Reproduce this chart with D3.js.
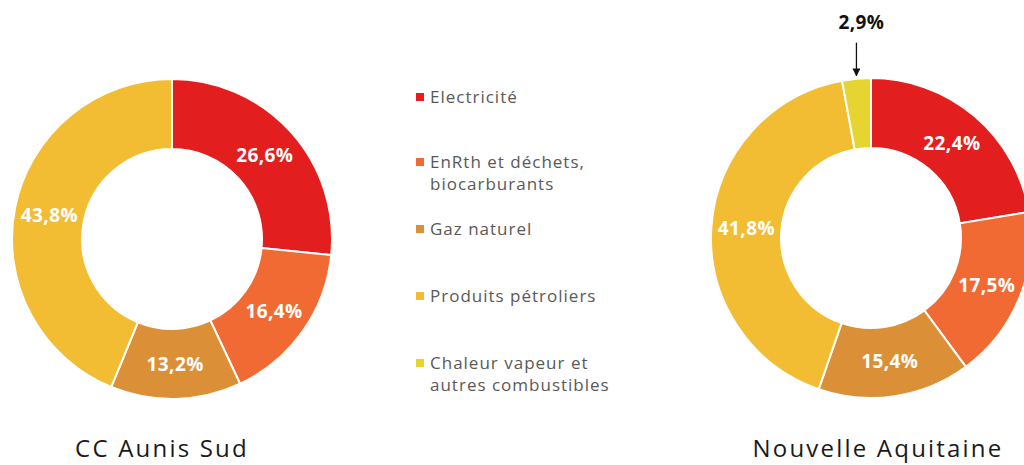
<!DOCTYPE html>
<html lang="fr">
<head>
<meta charset="utf-8">
<script src="https://cdn.jsdelivr.net/npm/d3@7"></script>
<style>
  html, body { margin: 0; padding: 0; background: #ffffff; }
  svg { display: block; }
</style>
</head>
<body>
<svg id="chart" width="1024" height="465"></svg>
<script>
// Energy consumption by source (share of total, %)
const categories = [
  "Electricité",
  "EnRth et déchets, biocarburants",
  "Gaz naturel",
  "Produits pétroliers",
  "Chaleur vapeur et autres combustibles"
];
const legendLines = [
  ["Electricité"],
  ["EnRth et déchets,", "biocarburants"],
  ["Gaz naturel"],
  ["Produits pétroliers"],
  ["Chaleur vapeur et", "autres combustibles"]
];
const colors = ["#e31e1e", "#f26a33", "#db9038", "#f2bd33", "#e6d530"];

const territories = ["CC Aunis Sud", "Nouvelle Aquitaine"];
const aunisSud = [26.6, 16.4, 13.2, 43.8, 0];
const nouvelleAquitaine = [22.4, 17.5, 15.4, 41.8, 2.9];

const svg = d3.select("#chart");
const fmt = v => d3.format(".1f")(v).replace(".", ",") + "%";

const outerR = 160, innerR = 90;
const pie = d3.pie().sort(null).value(d => d.value);
const arc = d3.arc().innerRadius(innerR).outerRadius(outerR);
const labelArc = d3.arc().innerRadius(125).outerRadius(125);
const color = d3.scaleOrdinal().domain(categories).range(colors);

// arrow marker for the small outside label
svg.append("defs").append("marker")
  .attr("id", "arrowhead")
  .attr("viewBox", "0 0 10 10")
  .attr("refX", 9).attr("refY", 5)
  .attr("markerWidth", 8).attr("markerHeight", 8)
  .attr("markerUnits", "userSpaceOnUse")
  .attr("orient", "auto")
  .append("path").attr("d", "M0,0 L10,5 L0,10 Z").attr("fill", "#111");

function donut(values, cx, cy, title, titleX) {
  const data = categories.map((c, i) => ({ cat: c, value: values[i] }));
  const g = svg.append("g").attr("transform", `translate(${cx},${cy})`);
  const arcs = pie(data).filter(d => d.data.value > 0);

  g.selectAll("path.slice").data(arcs).join("path")
    .attr("class", "slice")
    .attr("d", arc)
    .attr("fill", d => color(d.data.cat))
    .attr("stroke", "#ffffff")
    .attr("stroke-width", 2);

  // labels inside the ring for large slices
  g.selectAll("text.val").data(arcs.filter(d => d.data.value >= 5)).join("text")
    .attr("class", "val")
    .attr("transform", d => `translate(${labelArc.centroid(d)})`)
    .attr("text-anchor", "middle")
    .attr("dy", "0.36em")
    .attr("fill", "#ffffff")
    .attr("font-family", "'Open Sans', sans-serif")
    .attr("font-weight", 700)
    .attr("font-size", 19)
    .attr("letter-spacing", 0.4)
    .text(d => fmt(d.data.value));

  // small slices: label above the ring with an arrow
  arcs.filter(d => d.data.value < 5).forEach(d => {
    const mid = (d.startAngle + d.endAngle) / 2;
    const ax = Math.sin(mid) * outerR;
    const ay = -Math.cos(mid) * outerR;
    g.append("line")
      .attr("x1", ax).attr("y1", ay - 36)
      .attr("x2", ax).attr("y2", ay - 3)
      .attr("stroke", "#111").attr("stroke-width", 1.3)
      .attr("marker-end", "url(#arrowhead)");
    g.append("text")
      .attr("x", ax + 5).attr("y", ay - 50)
      .attr("text-anchor", "middle")
      .attr("fill", "#111")
      .attr("font-family", "'Open Sans', sans-serif")
      .attr("font-weight", 700)
      .attr("font-size", 19)
      .attr("letter-spacing", 0.4)
      .text(fmt(d.data.value));
  });

  svg.append("text")
    .attr("x", titleX).attr("y", 457)
    .attr("text-anchor", "middle")
    .attr("fill", "#1a1a1a")
    .attr("font-family", "'Open Sans', sans-serif")
    .attr("font-size", 24)
    .attr("letter-spacing", 2.2)
    .text(title);
}

donut(aunisSud, 172, 239, territories[0], 162);
donut(nouvelleAquitaine, 871, 238, territories[1], 878);

// legend
const legendY = [97, 162, 229, 296, 363];
const legend = svg.append("g");
categories.forEach((c, i) => {
  const y = legendY[i];
  legend.append("rect")
    .attr("x", 416).attr("y", y - 4)
    .attr("width", 8).attr("height", 8)
    .attr("fill", color(c));
  const t = legend.append("text")
    .attr("x", 430).attr("y", y)
    .attr("fill", "#595959")
    .attr("font-family", "'Open Sans', sans-serif")
    .attr("font-size", 17)
    .attr("letter-spacing", 1.0);
  legendLines[i].forEach((line, j) => {
    t.append("tspan").attr("x", 430).attr("dy", j === 0 ? "0.35em" : "1.3em").text(line);
  });
});
</script>
</body>
</html>
